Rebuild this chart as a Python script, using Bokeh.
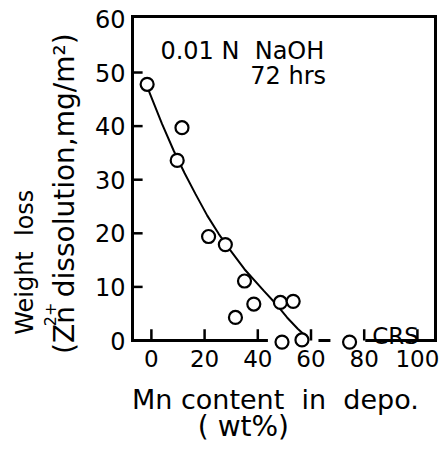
import math
from bokeh.plotting import figure
from bokeh.models import Range1d, FixedTicker
from bokeh.core.properties import value
from bokeh.embed import file_html
from bokeh.resources import INLINE

# ---- data ----
mn_content = [-1.6, 11.5, 9.7, 21.5, 27.8, 35.0, 38.5, 31.6, 48.5, 53.3, 49.1, 56.6, 74.5]
weight_loss = [47.8, 39.7, 33.6, 19.4, 17.9, 11.1, 6.8, 4.3, 7.1, 7.3, -0.3, 0.1, -0.3]

curve_x = [-1.0, 4.0, 8.4, 12.5, 16.5, 21.0, 25.3, 29.7, 35.0, 42.2, 46.5, 51.0, 55.0, 57.9, 59.1]
curve_y = [46.6, 40.4, 35.4, 31.2, 27.4, 23.3, 19.9, 16.8, 13.3, 9.3, 7.0, 4.3, 2.2, 0.9, 0.3]

x_ticks = [0, 20, 40, 60, 80, 100]
y_ticks = [0, 10, 20, 30, 40, 50, 60]

X_START, X_END = -7.1, 106.8
Y_START, Y_END = 0.0, 60.45

# broken baseline pieces (x from, x to) at weight loss 0
base_from = [X_START, 62.8, 80.4]
base_to = [43.8, 67.3, X_END]

# inward tick lengths (in data units)
X_TICK_LEN = 2.1
Y_TICK_LEN = 3.8

FONT = "DejaVu Sans"

p = figure(width=441, height=452, output_backend="svg", toolbar_location=None,
           title=None, x_range=Range1d(X_START, X_END), y_range=Range1d(Y_START, Y_END),
           min_border_left=132, min_border_right=6, min_border_top=16, min_border_bottom=112)
p.outline_line_color = None
p.grid.visible = False
p.background_fill_color = "white"
p.border_fill_color = "white"

# axes (labels only; ticks drawn below)
p.xaxis.ticker = FixedTicker(ticks=x_ticks)
p.yaxis.ticker = FixedTicker(ticks=y_ticks)
for ax in (p.xaxis, p.yaxis):
    ax.axis_line_color = None
    ax.minor_tick_line_color = None
    ax.major_tick_line_color = None
    ax.major_tick_out = 0
    ax.major_tick_in = 0
    ax.major_label_text_font = FONT
    ax.major_label_text_color = "black"
    ax.major_label_text_font_style = "normal"
p.xaxis.major_label_text_font_size = "23px"
p.yaxis.major_label_text_font_size = "24px"
p.xaxis.major_label_standoff = 9
p.yaxis.major_label_standoff = 7

# frame lines (top, right, left) and broken baseline
p.segment(x0=[X_START, X_END, X_START], y0=[Y_END, Y_START, Y_START],
          x1=[X_END, X_END, X_START], y1=[Y_END, Y_END, Y_END],
          line_color="black", line_width=3, line_cap="square", level="overlay")
p.segment(x0=base_from, y0=[0] * len(base_from), x1=base_to, y1=[0] * len(base_to),
          line_color="black", line_width=3, level="overlay")

# inward ticks
xt = x_ticks
p.segment(x0=xt, y0=[0] * len(xt), x1=xt, y1=[X_TICK_LEN] * len(xt),
          line_color="black", line_width=2.5, level="overlay")
yt = y_ticks[1:-1]
p.segment(x0=[X_START] * len(yt), y0=yt, x1=[X_START + Y_TICK_LEN] * len(yt), y1=yt,
          line_color="black", line_width=2.5, level="overlay")

# fitted curve
p.line(curve_x, curve_y, line_color="black", line_width=2)

# data points
p.scatter(mn_content, weight_loss, marker="circle", size=13, fill_color="white",
          line_color="black", line_width=2.2, level="overlay")


def txt(x, y, s, size, angle=0.0, align="left", baseline="alphabetic"):
    p.text(x=[x], y=[y], text=[s], angle=angle, text_font=value(FONT),
           text_font_size=value(size), text_color="black", text_align=align,
           text_baseline=baseline, level="overlay")


NB = "\u00a0"

# texts inside the plot
txt(3.4, 54.1, "0.01 N" + NB + NB + "NaOH", "24px")
txt(37.2, 49.4, "72 hrs", "24px")
txt(83.0, 0.75, "CRS", "23px")

# axis titles
txt(-47.4, 14.6, "Weight" + NB + NB + "loss", "24px", math.pi / 2, "center", "middle")
txt(-32.7, 27.4, "(Zn dissolution,mg/m\u00b2)", "28px", math.pi / 2, "center", "middle")
txt(-38.0, 4.85, "2+", "16px", math.pi / 2, "center", "middle")
txt(46.6, -11.0, "Mn content" + NB + NB + "in" + NB + NB + "depo.", "27px", 0.0, "center", "middle")
txt(34.6, -16.0, "(" + NB + "wt%)", "28px", 0.0, "center", "middle")

open("out.html", "w").write(file_html(p, INLINE))
